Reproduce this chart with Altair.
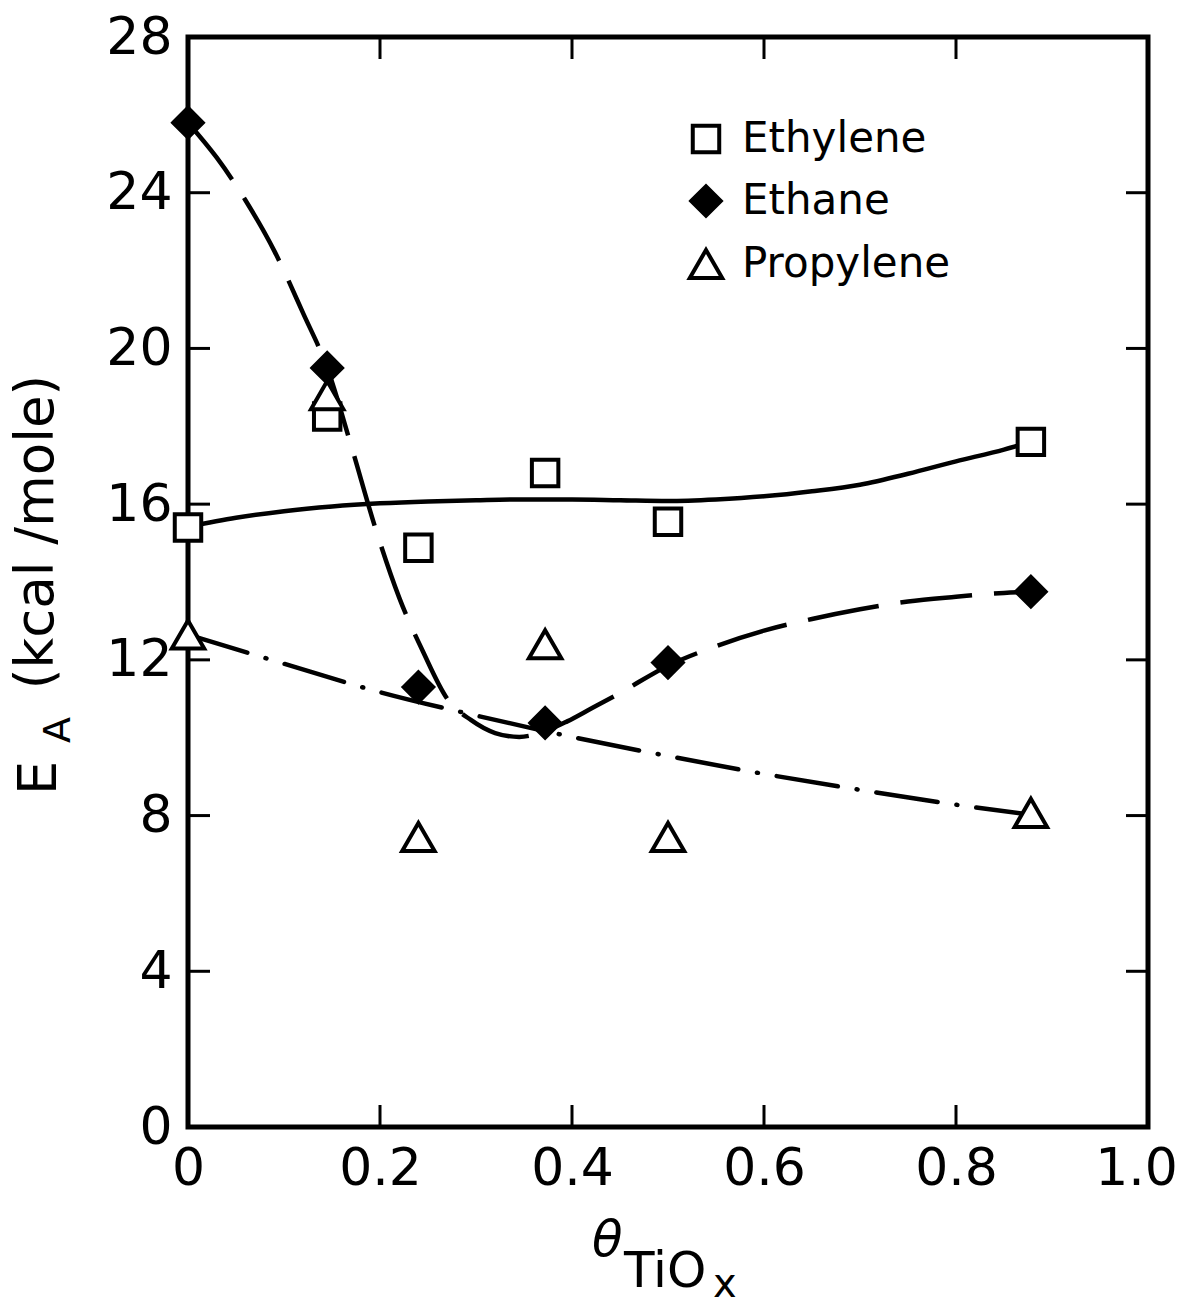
import altair as alt
import pandas as pd

# ---------------- data ----------------
series_order = ["Ethylene", "Ethane", "Propylene"]

pt_x = [0.0, 0.145, 0.24, 0.372, 0.5, 0.878]
ethylene_pts = [15.4, 18.25, 14.88, 16.8, 15.55, 17.6]
ethane_pts = [25.8, 19.5, 11.3, 10.38, 11.93, 13.75]
propylene_pts = [12.65, 18.8, 7.45, 12.4, 7.45, 8.07]

ethylene_cx = [0, 0.05, 0.1, 0.15, 0.2, 0.25, 0.3, 0.35, 0.4, 0.45, 0.5,
               0.55, 0.6, 0.65, 0.7, 0.75, 0.8, 0.85, 0.878]
ethylene_cy = [15.42, 15.65, 15.82, 15.94, 16.02, 16.07, 16.1, 16.12, 16.12,
               16.1, 16.08, 16.12, 16.2, 16.33, 16.5, 16.78, 17.1, 17.4, 17.6]

ethane_cx = [0, 0.03, 0.06, 0.09, 0.12, 0.145, 0.17, 0.195, 0.22, 0.245,
             0.27, 0.295, 0.32, 0.345, 0.37, 0.395, 0.42, 0.45, 0.5, 0.55,
             0.6, 0.65, 0.7, 0.75, 0.8, 0.85, 0.878]
ethane_cy = [25.8, 24.9, 23.8, 22.5, 20.9, 19.5, 17.5, 15.4, 13.6, 12.2,
             11.0, 10.45, 10.12, 10.02, 10.15, 10.42, 10.75, 11.15, 11.85,
             12.35, 12.75, 13.05, 13.3, 13.5, 13.62, 13.72, 13.75]

propylene_cx = [0, 0.1, 0.2, 0.3, 0.4, 0.5, 0.6, 0.7, 0.8, 0.878]
propylene_cy = [12.65, 11.9, 11.17, 10.57, 10.02, 9.53, 9.07, 8.66, 8.28, 8.02]

x_ticks = [0, 0.2, 0.4, 0.6, 0.8, 1.0]
y_ticks = [0, 4, 8, 12, 16, 20, 24, 28]
x_inner_ticks = [0.2, 0.4, 0.6, 0.8]
y_inner_ticks = [4, 8, 12, 16, 20, 24]

# ---------------- tables ----------------
pts = pd.DataFrame(
    [{"theta": x, "ea": y, "series": "Ethylene"} for x, y in zip(pt_x, ethylene_pts)]
    + [{"theta": x, "ea": y, "series": "Propylene"} for x, y in zip(pt_x, propylene_pts)]
    + [{"theta": x, "ea": y, "series": "Ethane"} for x, y in zip(pt_x, ethane_pts)]
)
pts["order"] = range(len(pts))

W, H = 960, 1090
TICK = 22
FONT = "DejaVu Sans"

xs = alt.Scale(domain=[0, 1.0], nice=False, zero=False)
ys = alt.Scale(domain=[0, 28], nice=False, zero=False)

x_axis = alt.Axis(
    values=x_ticks, ticks=False, domain=False, grid=False, title=None,
    labelExpr="datum.value == 0 ? '0' : format(datum.value, '.1f')",
    labelFont=FONT, labelFontSize=52, labelColor="black", labelPadding=16,
    labelFlush=False,
    labelOffset={"condition": {"test": "datum.value >= 1", "value": -12}, "value": 0})
y_axis = alt.Axis(
    values=y_ticks, ticks=False, domain=False, grid=False, title=None,
    format="d", labelFont=FONT, labelFontSize=52, labelColor="black",
    labelPadding=16, labelFlush=False)


def X(f):
    return alt.X(f, type="quantitative", scale=xs, axis=x_axis)


def Y(f):
    return alt.Y(f, type="quantitative", scale=ys, axis=y_axis)


def curve(cx, cy, **kw):
    df = pd.DataFrame({"theta": cx, "ea": cy})
    return alt.Chart(df).mark_line(interpolate="monotone", color="black", **kw).encode(
        x=X("theta"), y=Y("ea"))


ethylene_line = curve(ethylene_cx, ethylene_cy, strokeWidth=4.5)
ethane_line = curve(ethane_cx, ethane_cy, strokeWidth=4.5, strokeDash=[72, 22])
propylene_line = curve(propylene_cx, propylene_cy, strokeWidth=4.5,
                       strokeDash=[62, 19, 1, 19], strokeCap="round")

points = alt.Chart(pts).mark_point(filled=True, strokeWidth=4, opacity=1).encode(
    x=X("theta"), y=Y("ea"),
    order=alt.Order("order:Q"),
    shape=alt.Shape("series:N", scale=alt.Scale(domain=series_order,
                    range=["square", "diamond", "triangle-up"]), title=None),
    fill=alt.Fill("series:N", scale=alt.Scale(domain=series_order,
                  range=["white", "black", "white"]), title=None),
    stroke=alt.Stroke("series:N", scale=alt.Scale(domain=series_order,
                      range=["black", "black", "black"]), title=None),
    size=alt.Size("series:N", scale=alt.Scale(domain=series_order,
                  range=[700, 1050, 1150]), title=None),
)

# inward tick marks on all four sides
ytk = pd.DataFrame({"v": y_inner_ticks})
xtk = pd.DataFrame({"v": x_inner_ticks})
tick_style = dict(color="black", strokeWidth=3)
left_ticks = alt.Chart(ytk).mark_rule(**tick_style).encode(
    y=Y("v"), x=alt.value(0), x2=alt.value(TICK))
right_ticks = alt.Chart(ytk).mark_rule(**tick_style).encode(
    y=Y("v"), x=alt.value(W - TICK), x2=alt.value(W))
bottom_ticks = alt.Chart(xtk).mark_rule(**tick_style).encode(
    x=X("v"), y=alt.value(H), y2=alt.value(H - TICK))
top_ticks = alt.Chart(xtk).mark_rule(**tick_style).encode(
    x=X("v"), y=alt.value(0), y2=alt.value(TICK))

# axis titles built from pieces (for subscripts)
one = alt.Data(values=[{"a": 1}])


def txt(t, x, y, size, angle=0, style="normal", align="left", baseline="alphabetic"):
    kw = dict(text=t, font=FONT, fontSize=size, color="black", align=align,
              baseline=baseline, fontStyle=style)
    if angle:
        kw["angle"] = angle
    return alt.Chart(one).mark_text(**kw).encode(x=alt.value(x), y=alt.value(y))


y_title_main = txt("(kcal /mole)", -135, 532 - 37, 53, angle=270, align="center")
y_title_E = txt("E", -132, 778 - 37, 54, angle=270, align="center")
y_title_A = txt("A", -118, 730 - 37, 38, angle=270, align="center")

x_title_theta = txt("θ", 404, 1256 - 37, 50, style="italic")
x_title_tio = txt("TiO", 436, 1287 - 37, 50)
x_title_x = txt("x", 713 - 188, 1297 - 37, 40)

chart = alt.layer(
    left_ticks, right_ticks, bottom_ticks, top_ticks,
    ethylene_line, ethane_line, propylene_line,
    points,
    y_title_main, y_title_E, y_title_A,
    x_title_theta, x_title_tio, x_title_x,
).resolve_scale(x="shared", y="shared").properties(
    width=W, height=H,
    autosize=alt.AutoSizeParams(type="none"),
    padding={"left": 188, "top": 37, "right": 34, "bottom": 183},
    background="white",
).configure_view(
    stroke="black", strokeWidth=5
).configure_legend(
    orient="none", legendX=497, legendY=81,
    labelFont=FONT, labelFontSize=42, labelColor="black", labelLimit=500,
    symbolStrokeWidth=4,
    rowPadding=17, labelOffset=15, title=None,
)

chart.save("out.html", embed_options={"renderer": "svg", "actions": False})
